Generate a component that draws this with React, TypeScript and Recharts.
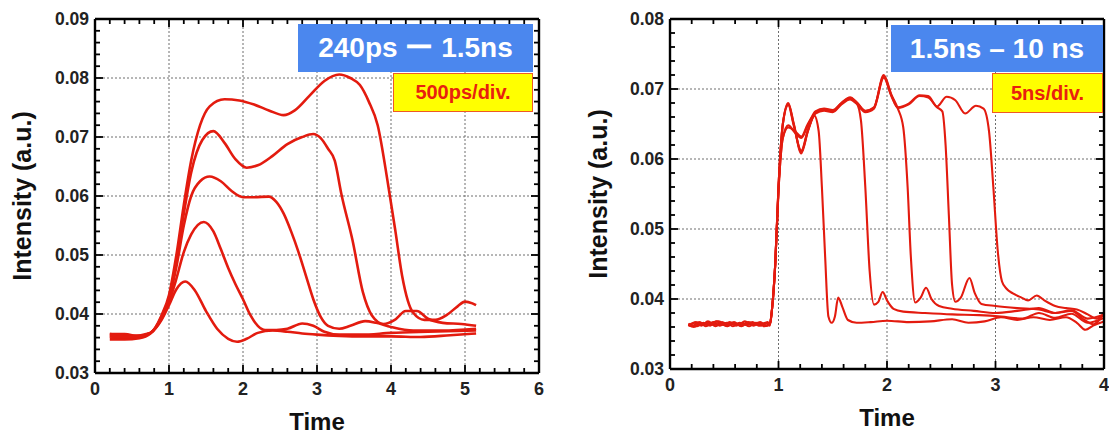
import React from 'react';
import { LineChart, Line, XAxis, YAxis, ReferenceLine } from 'recharts';

type Pt = [number, number];

// ---- left panel: 240ps - 1.5ns, 500ps/div ----
const leftXTicks = [0, 1, 2, 3, 4, 5, 6];
const leftYTicks = [0.03, 0.04, 0.05, 0.06, 0.07, 0.08, 0.09];

const left240: Pt[] = [
  [0.2, 0.0357], [0.4, 0.0357], [0.6, 0.0359], [0.75, 0.0367], [0.9, 0.039], [1.0, 0.0415], [1.1, 0.0442],
  [1.22, 0.0455], [1.35, 0.044], [1.5, 0.0405], [1.65, 0.0375], [1.8, 0.0358], [1.92, 0.0353], [2.05, 0.0358],
  [2.2, 0.0368], [2.4, 0.0372], [2.6, 0.037], [2.8, 0.0367], [3.0, 0.0365], [3.3, 0.0363], [3.6, 0.0362],
  [4.0, 0.0362], [4.4, 0.0361], [4.8, 0.0364], [5.15, 0.0367],
];
const left500: Pt[] = [
  [0.2, 0.0366], [0.4, 0.0366], [0.6, 0.0362], [0.75, 0.0368], [0.9, 0.0392], [1.0, 0.042], [1.1, 0.046],
  [1.2, 0.0505], [1.3, 0.0535], [1.47, 0.0556], [1.6, 0.054], [1.7, 0.051], [1.8, 0.0478], [1.9, 0.045],
  [2.0, 0.0425], [2.1, 0.0398], [2.2, 0.038], [2.3, 0.0373], [2.45, 0.0373], [2.6, 0.0375], [2.8, 0.0384],
  [2.95, 0.038], [3.1, 0.037], [3.3, 0.0365], [3.6, 0.0365], [4.0, 0.0368], [4.5, 0.037], [5.15, 0.0372],
];
const left800: Pt[] = [
  [0.2, 0.0362], [0.5, 0.036], [0.75, 0.0368], [0.9, 0.0395], [1.0, 0.0425], [1.1, 0.048], [1.2, 0.055],
  [1.3, 0.06], [1.42, 0.0625], [1.55, 0.0633], [1.7, 0.0625], [1.85, 0.0608], [2.0, 0.0598], [2.15, 0.0598],
  [2.35, 0.0599], [2.45, 0.059], [2.55, 0.057], [2.65, 0.054], [2.75, 0.0505], [2.85, 0.0465], [2.95, 0.0425],
  [3.05, 0.0395], [3.15, 0.038], [3.3, 0.0375], [3.45, 0.038], [3.65, 0.0388], [3.8, 0.0385], [4.0, 0.0378],
  [4.3, 0.0372], [4.7, 0.0372], [5.15, 0.0375],
];
const left1100: Pt[] = [
  [0.2, 0.0366], [0.5, 0.0363], [0.75, 0.0368], [0.9, 0.0395], [1.0, 0.0428], [1.1, 0.049], [1.2, 0.057],
  [1.3, 0.064], [1.45, 0.0695], [1.6, 0.071], [1.75, 0.069], [1.9, 0.0662], [2.05, 0.0648], [2.2, 0.0652],
  [2.4, 0.0668], [2.6, 0.0688], [2.8, 0.07], [2.95, 0.0705], [3.05, 0.0698], [3.15, 0.068], [3.24, 0.066],
  [3.33, 0.0603], [3.48, 0.0525], [3.62, 0.0437], [3.74, 0.0398], [3.9, 0.0383], [4.05, 0.039], [4.2, 0.0405],
  [4.35, 0.0405], [4.5, 0.0392], [4.7, 0.0385], [4.95, 0.0383], [5.15, 0.038],
];
const left1500: Pt[] = [
  [0.2, 0.0362], [0.5, 0.0361], [0.75, 0.0368], [0.9, 0.0398], [1.0, 0.0432], [1.1, 0.05], [1.2, 0.0585],
  [1.3, 0.066], [1.42, 0.072], [1.55, 0.0752], [1.75, 0.0764], [1.95, 0.0762], [2.15, 0.0755], [2.35, 0.0745],
  [2.55, 0.0737], [2.7, 0.0745], [2.9, 0.077], [3.1, 0.0795], [3.3, 0.0806], [3.45, 0.08], [3.58, 0.0788],
  [3.7, 0.076], [3.82, 0.072], [3.96, 0.062], [4.06, 0.054], [4.15, 0.0465], [4.3, 0.0402], [4.45, 0.039],
  [4.6, 0.039], [4.75, 0.0398], [4.9, 0.0413], [5.0, 0.0421], [5.1, 0.0418], [5.15, 0.0415],
];

// ---- right panel: 1.5ns - 10ns, 5ns/div ----
const rightXTicks = [0, 1, 2, 3, 4];
const rightYTicks = [0.03, 0.04, 0.05, 0.06, 0.07, 0.08];

const rightA: Pt[] = [
  [0.17, 0.0363], [0.22, 0.036], [0.28, 0.0366], [0.34, 0.0363], [0.4, 0.0367], [0.46, 0.0362], [0.52, 0.0366],
  [0.58, 0.0361], [0.64, 0.0366], [0.7, 0.0363], [0.76, 0.0367], [0.82, 0.0362], [0.88, 0.0366], [0.92, 0.0362],
  [0.94, 0.0385], [0.97, 0.045], [1.0, 0.0555], [1.04, 0.063], [1.09, 0.0645], [1.15, 0.064], [1.21, 0.0632],
  [1.27, 0.065], [1.33, 0.0662], [1.37, 0.064], [1.4, 0.056], [1.43, 0.046], [1.46, 0.0375], [1.49, 0.0366],
  [1.52, 0.0375], [1.55, 0.0402], [1.59, 0.0388], [1.64, 0.037], [1.72, 0.0366], [1.85, 0.0367], [2.0, 0.0369],
  [2.2, 0.0367], [2.4, 0.0368], [2.6, 0.0371], [2.75, 0.0366], [2.9, 0.0368], [3.05, 0.0374], [3.2, 0.037],
  [3.35, 0.0374], [3.5, 0.037], [3.65, 0.0374], [3.75, 0.0366], [3.83, 0.0356], [3.9, 0.0362], [4.0, 0.0368],
];
const rightB: Pt[] = [
  [0.17, 0.0361], [0.23, 0.0366], [0.29, 0.0362], [0.35, 0.0368], [0.41, 0.0363], [0.47, 0.0365], [0.53, 0.0361],
  [0.59, 0.0367], [0.65, 0.0362], [0.71, 0.0366], [0.77, 0.0362], [0.83, 0.0367], [0.89, 0.0362], [0.92, 0.0365],
  [0.94, 0.0385], [0.97, 0.045], [1.0, 0.056], [1.04, 0.065], [1.09, 0.0679], [1.14, 0.065], [1.21, 0.061],
  [1.27, 0.064], [1.34, 0.0666], [1.42, 0.067], [1.5, 0.0668], [1.58, 0.0679], [1.66, 0.0686], [1.72, 0.068],
  [1.76, 0.0655], [1.8, 0.056], [1.84, 0.044], [1.88, 0.0392], [1.92, 0.0396], [1.96, 0.041], [2.0, 0.0398],
  [2.06, 0.0386], [2.15, 0.0382], [2.35, 0.038], [2.6, 0.0378], [2.85, 0.0377], [3.05, 0.0375], [3.25, 0.0372],
  [3.4, 0.038], [3.55, 0.0373], [3.7, 0.0379], [3.85, 0.0366], [4.0, 0.0373],
];
const rightC: Pt[] = [
  [0.17, 0.0365], [0.21, 0.0362], [0.27, 0.0367], [0.33, 0.0361], [0.39, 0.0366], [0.45, 0.0368], [0.51, 0.0362],
  [0.57, 0.0366], [0.63, 0.0363], [0.69, 0.0368], [0.75, 0.0363], [0.81, 0.0366], [0.87, 0.0361], [0.92, 0.0364],
  [0.94, 0.0385], [0.97, 0.045], [1.0, 0.0555], [1.04, 0.063], [1.09, 0.0648], [1.15, 0.0638], [1.21, 0.063],
  [1.27, 0.0648], [1.34, 0.0668], [1.42, 0.0672], [1.5, 0.067], [1.58, 0.068], [1.66, 0.0687], [1.72, 0.0681],
  [1.8, 0.0668], [1.88, 0.0673], [1.97, 0.072], [2.04, 0.0692], [2.1, 0.0672], [2.15, 0.0645], [2.19, 0.056],
  [2.22, 0.046], [2.26, 0.0395], [2.31, 0.0402], [2.36, 0.0416], [2.41, 0.04], [2.48, 0.039], [2.6, 0.0386],
  [2.8, 0.0383], [3.0, 0.038], [3.2, 0.0383], [3.4, 0.0387], [3.55, 0.038], [3.7, 0.0384], [3.85, 0.0372],
  [4.0, 0.0378],
];
const rightD: Pt[] = [
  [0.17, 0.0362], [0.24, 0.0367], [0.3, 0.0363], [0.36, 0.0366], [0.42, 0.0361], [0.48, 0.0367], [0.54, 0.0363],
  [0.6, 0.0365], [0.66, 0.0361], [0.72, 0.0367], [0.78, 0.0364], [0.84, 0.0362], [0.9, 0.0367], [0.92, 0.0363],
  [0.94, 0.0385], [0.97, 0.045], [1.0, 0.056], [1.04, 0.065], [1.09, 0.0677], [1.14, 0.0648], [1.21, 0.0612],
  [1.27, 0.0641], [1.34, 0.0665], [1.42, 0.0669], [1.5, 0.0667], [1.58, 0.0678], [1.66, 0.0685], [1.72, 0.0679],
  [1.8, 0.0667], [1.88, 0.0672], [1.97, 0.0716], [2.04, 0.069], [2.1, 0.0673], [2.2, 0.0678], [2.3, 0.069],
  [2.38, 0.0688], [2.46, 0.0674], [2.51, 0.0668], [2.54, 0.062], [2.57, 0.052], [2.6, 0.042], [2.63, 0.0396],
  [2.68, 0.0402], [2.76, 0.043], [2.81, 0.0408], [2.87, 0.0393], [3.0, 0.039], [3.2, 0.0387], [3.4, 0.0385],
  [3.55, 0.038], [3.7, 0.0383], [3.82, 0.037], [3.9, 0.0364], [4.0, 0.038],
];
const rightE: Pt[] = [
  [0.17, 0.0364], [0.25, 0.0361], [0.31, 0.0366], [0.37, 0.0362], [0.43, 0.0368], [0.49, 0.0363], [0.55, 0.0367],
  [0.61, 0.0362], [0.67, 0.0365], [0.73, 0.0361], [0.79, 0.0366], [0.85, 0.0363], [0.9, 0.0366], [0.92, 0.0364],
  [0.94, 0.0385], [0.97, 0.045], [1.0, 0.056], [1.04, 0.065], [1.09, 0.068], [1.14, 0.0651], [1.21, 0.0608],
  [1.27, 0.0639], [1.34, 0.0667], [1.42, 0.0671], [1.5, 0.0669], [1.58, 0.068], [1.66, 0.0688], [1.72, 0.0681],
  [1.8, 0.0669], [1.88, 0.0674], [1.97, 0.0718], [2.04, 0.0691], [2.1, 0.0674], [2.2, 0.0679], [2.3, 0.0691],
  [2.38, 0.069], [2.46, 0.0675], [2.55, 0.0689], [2.63, 0.0684], [2.72, 0.0665], [2.82, 0.0676], [2.89, 0.0672],
  [2.94, 0.064], [2.98, 0.056], [3.02, 0.047], [3.06, 0.0425], [3.1, 0.0415], [3.16, 0.0408], [3.24, 0.0402],
  [3.3, 0.0398], [3.38, 0.0405], [3.45, 0.0398], [3.55, 0.039], [3.65, 0.0387], [3.75, 0.0385], [3.85, 0.0378],
  [3.93, 0.0372], [4.0, 0.0378],
];

const leftSeries = [left240, left500, left800, left1100, left1500];
const rightSeries = [rightA, rightB, rightC, rightD, rightE];

const RED = '#e31b0f';
const FONT = '"Liberation Sans", Arial, Helvetica, sans-serif';

const toRows = (pts: Pt[]) => pts.map(([t, v]) => ({ t, v }));

// majors plus (n-1) minor ticks between each pair
const withMinor = (majors: number[], n: number) => {
  const out: number[] = [];
  for (let i = 0; i < majors.length - 1; i++) {
    const step = (majors[i + 1] - majors[i]) / n;
    for (let k = 0; k < n; k++) out.push(+(majors[i] + k * step).toFixed(6));
  }
  out.push(majors[majors.length - 1]);
  return out;
};

const isMajor = (v: number, majors: number[]) => majors.some((m) => Math.abs(m - v) < 1e-7);

const TICK_LINE = { stroke: '#000', strokeWidth: 1.8 };

// bottom axis tick: label + inward tick, plus the matching tick on the top frame edge
const bottomTick = (majors: number[], plotH: number) => (props: any) => {
  const { x, y, payload } = props;
  const major = isMajor(payload.value, majors);
  const len = major ? 8 : 5;
  return (
    <g>
      <line x1={x} x2={x} y1={y} y2={y - len} {...TICK_LINE} />
      <line x1={x} x2={x} y1={y - plotH} y2={y - plotH + len} {...TICK_LINE} />
      {major && (
        <text x={x} y={y + 16} textAnchor="middle" dominantBaseline="central" fontFamily={FONT} fontWeight="bold" fontSize={18} fill="#222">
          {String(payload.value)}
        </text>
      )}
    </g>
  );
};

// left axis tick: label + inward tick, plus the matching tick on the right frame edge
const leftTick = (majors: number[], plotW: number, gap: number) => (props: any) => {
  const { x, y, payload } = props;
  const major = isMajor(payload.value, majors);
  const len = major ? 8 : 5;
  const x0 = x + gap;
  return (
    <g>
      <line x1={x0} x2={x0 + len} y1={y} y2={y} {...TICK_LINE} />
      <line x1={x0 + plotW} x2={x0 + plotW - len} y1={y} y2={y} {...TICK_LINE} />
      {major && (
        <text x={x} y={y} textAnchor="end" dominantBaseline="central" fontFamily={FONT} fontWeight="bold" fontSize={17.5} fill="#222">
          {payload.value.toFixed(2)}
        </text>
      )}
    </g>
  );
};

const yLabel = (dx: number) => (props: any) => {
  const vb = props.viewBox;
  const cx = vb.x + dx;
  const cy = vb.y + vb.height / 2;
  return (
    <text x={cx} y={cy} transform={`rotate(-90 ${cx} ${cy})`} textAnchor="middle" dominantBaseline="central" fontFamily={FONT} fontWeight="bold" fontSize={25} fill="#111">
      Intensity (a.u.)
    </text>
  );
};

const xLabel = (dy: number) => (props: any) => {
  const vb = props.viewBox;
  const cx = vb.x + vb.width / 2;
  return (
    <text x={cx} y={vb.y + dy} textAnchor="middle" dominantBaseline="central" fontFamily={FONT} fontWeight="bold" fontSize={24} fill="#111">
      Time
    </text>
  );
};

type PanelProps = {
  width: number;
  height: number;
  margin: { top: number; right: number; bottom: number; left: number };
  yAxisWidth: number;
  xAxisHeight: number;
  xTicks: number[];
  yTicks: number[];
  series: Pt[][];
  strokeWidth: number;
  yLabelDx: number;
};

const Panel: React.FC<PanelProps> = ({ width, height, margin, yAxisWidth, xAxisHeight, xTicks, yTicks, series, strokeWidth, yLabelDx }) => {
  const xAll = withMinor(xTicks, 5);
  const yAll = withMinor(yTicks, 5);
  const xDom: [number, number] = [xTicks[0], xTicks[xTicks.length - 1]];
  const yDom: [number, number] = [yTicks[0], yTicks[yTicks.length - 1]];
  const frameSize = 1;
  const plotW = width - margin.left - margin.right - yAxisWidth - frameSize;
  const plotH = height - margin.top - margin.bottom - xAxisHeight - frameSize;
  const tickGap = 6;
  const axisLine = { stroke: '#000', strokeWidth: 2.4 };
  return (
    <LineChart width={width} height={height} margin={margin}>
      <XAxis
        dataKey="t"
        type="number"
        domain={xDom}
        ticks={xAll}
        interval={0}
        allowDataOverflow
        height={xAxisHeight}
        tickSize={0}
        tickMargin={0}
        tickLine={false}
        axisLine={axisLine}
        tick={bottomTick(xTicks, plotH)}
        label={{ content: xLabel(48) }}
      />
      <XAxis xAxisId="top" orientation="top" type="number" domain={xDom} height={frameSize} tick={false} tickLine={false} axisLine={axisLine} />
      <YAxis
        type="number"
        domain={yDom}
        ticks={yAll}
        interval={0}
        allowDataOverflow
        width={yAxisWidth}
        tickSize={0}
        tickMargin={tickGap}
        tickLine={false}
        axisLine={axisLine}
        tick={leftTick(yTicks, plotW, tickGap)}
        label={{ content: yLabel(yLabelDx) }}
      />
      <YAxis yAxisId="r" orientation="right" type="number" domain={yDom} width={frameSize} tick={false} tickLine={false} axisLine={axisLine} />
      {xTicks.slice(1, -1).map((v) => (
        <ReferenceLine key={'gx' + v} x={v} stroke="#6e6e6e" strokeWidth={1} strokeDasharray="2 2" />
      ))}
      {yTicks.slice(1, -1).map((v) => (
        <ReferenceLine key={'gy' + v} y={v} stroke="#6e6e6e" strokeWidth={1} strokeDasharray="2 2" />
      ))}
      {series.map((pts, i) => (
        <Line
          key={i}
          data={toRows(pts)}
          dataKey="v"
          type="monotone"
          stroke={RED}
          strokeWidth={strokeWidth}
          dot={false}
          activeDot={false}
          isAnimationActive={false}
        />
      ))}
    </LineChart>
  );
};

const boxText: React.CSSProperties = {
  position: 'absolute',
  display: 'flex',
  alignItems: 'center',
  justifyContent: 'center',
  boxSizing: 'border-box',
  fontFamily: FONT,
  whiteSpace: 'nowrap',
};

const Tag: React.FC<{ left: number; top: number; w: number; h: number; blue?: boolean; size: number; children: React.ReactNode }> = ({
  left,
  top,
  w,
  h,
  blue,
  size,
  children,
}) => (
  <div
    style={{
      ...boxText,
      left,
      top,
      width: w,
      height: h,
      background: blue ? '#4b87ee' : '#ffff00',
      border: blue ? 'none' : '1.5px solid #ee5a24',
      color: blue ? '#ffffff' : '#e8200f',
      fontSize: size,
      fontWeight: blue ? 600 : 700,
    }}
  >
    {children}
  </div>
);

export default function App() {
  return (
    <div style={{ position: 'absolute', left: 0, top: 0, width: 1109, height: 435, background: '#fff', overflow: 'hidden' }}>
      <div style={{ position: 'absolute', left: 0, top: 0 }}>
        <Panel
          width={560}
          height={435}
          margin={{ top: 18, right: 20, bottom: 0, left: 0 }}
          yAxisWidth={95}
          xAxisHeight={62}
          xTicks={leftXTicks}
          yTicks={leftYTicks}
          series={leftSeries}
          strokeWidth={2.6}
          yLabelDx={22}
        />
      </div>
      <div style={{ position: 'absolute', left: 560, top: 0 }}>
        <Panel
          width={549}
          height={435}
          margin={{ top: 18, right: 4, bottom: 0, left: 0 }}
          yAxisWidth={110}
          xAxisHeight={66}
          xTicks={rightXTicks}
          yTicks={rightYTicks}
          series={rightSeries}
          strokeWidth={2.1}
          yLabelDx={38}
        />
      </div>
      <Tag left={298} top={24} w={235} h={48} blue size={28}>
        240ps ー 1.5ns
      </Tag>
      <Tag left={393} top={73} w={140} h={39} size={20}>
        500ps/div.
      </Tag>
      <Tag left={891} top={25} w={212} h={47} blue size={28}>
        1.5ns – 10 ns
      </Tag>
      <Tag left={992} top={73} w={111} h={40} size={20}>
        5ns/div.
      </Tag>
    </div>
  );
}
